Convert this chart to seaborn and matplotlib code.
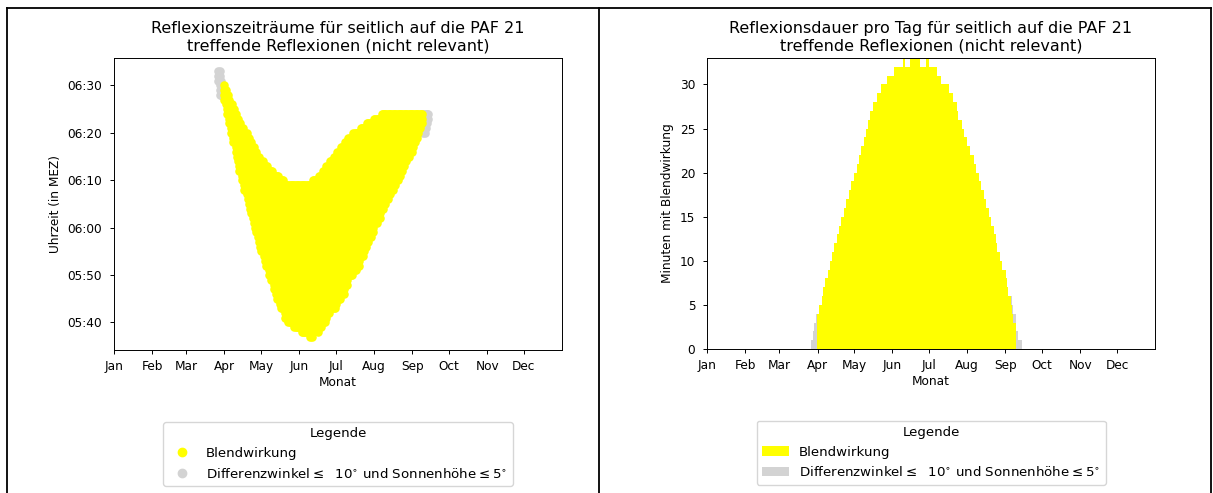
import numpy as np
import pandas as pd
import matplotlib
matplotlib.use("Agg")
import matplotlib.pyplot as plt
import seaborn as sns
from matplotlib.lines import Line2D
from matplotlib.patches import Patch
from matplotlib.ticker import FuncFormatter

# =========================================
# DATEN
# =========================================

# Tag im Jahr (0 = 1. Januar)
monat_start = [0, 31, 59, 90, 120, 151, 181, 212, 243, 273, 304, 334]
monat_namen = ["Jan", "Feb", "Mar", "Apr", "May", "Jun",
               "Jul", "Aug", "Sep", "Oct", "Nov", "Dec"]

# Blendwirkung ab Tag 90 (1. April): letzte Minute (ab Mitternacht) und Dauer je Tag
erster_tag = 90
ende_gelb = [
    390, 389, 388, 388, 387, 386, 386, 385, 385, 384,   # 90
    383, 383, 382, 382, 381, 381, 380, 380, 380, 379,   # 100
    379, 378, 378, 377, 377, 376, 376, 375, 375, 374,   # 110
    374, 374, 373, 373, 373, 373, 372, 372, 372, 372,   # 120
    371, 371, 371, 371, 371, 370, 370, 370, 370, 369,   # 130
    369, 369, 369, 369, 369, 369, 369, 369, 369, 369,   # 140
    369, 369, 369, 369, 369, 369, 369, 369, 369, 369,   # 150
    369, 369, 370, 370, 370, 370, 370, 371, 371, 371,   # 160
    372, 372, 372, 373, 373, 373, 374, 374, 374, 375,   # 170
    375, 375, 376, 376, 376, 377, 377, 377, 378, 378,   # 180
    378, 379, 379, 379, 379, 380, 380, 380, 380, 380,   # 190
    380, 381, 381, 381, 381, 381, 382, 382, 382, 382,   # 200
    382, 382, 383, 383, 383, 383, 383, 383, 384, 384,   # 210
    384, 384, 384, 384, 384, 384, 384, 384, 384, 384,   # 220
    384, 384, 384, 384, 384, 384, 384, 384, 384, 384,   # 230
    384, 384, 384, 384, 384, 384, 384, 384, 384, 384,   # 240
    384, 384,                                           # 250
]
dauer_gelb = [
    4, 4, 5, 5, 6, 7, 7, 8, 8, 9,
    9, 10, 11, 11, 12, 12, 13, 13, 14, 14,
    15, 15, 16, 16, 17, 17, 18, 18, 19, 19,
    20, 20, 20, 21, 22, 22, 23, 23, 24, 24,
    25, 25, 26, 27, 27, 27, 28, 28, 28, 29,
    29, 29, 30, 30, 30, 30, 30, 31, 31, 31,
    31, 31, 31, 32, 32, 32, 32, 32, 32, 32,
    33, 33, 32, 32, 32, 32, 33, 33, 33, 33,
    33, 33, 33, 33, 32, 32, 32, 32, 32, 33,
    33, 32, 32, 32, 32, 32, 32, 32, 31, 31,
    31, 30, 30, 30, 30, 30, 30, 30, 29, 29,
    29, 28, 28, 28, 27, 26, 26, 26, 25, 25,
    24, 24, 23, 23, 23, 22, 22, 22, 21, 21,
    20, 20, 19, 19, 18, 18, 17, 17, 16, 16,
    15, 15, 14, 14, 13, 13, 12, 11, 11, 10,
    10, 9, 9, 9, 8, 7, 6, 6, 5, 4,
    3, 3,
]

# graue Punkte links: Tag, von, bis (Minuten ab Mitternacht)
grau_tag = [85, 86, 87, 252, 253, 254, 255, 256]
grau_von = [391, 388, 388, 380, 380, 381, 382, 383]
grau_bis = [393, 393, 391, 384, 384, 384, 384, 384]

# graue Balken rechts
grau_balken_tag = [85, 86, 87, 88, 89, 247, 248, 249, 250, 251, 252, 253, 254, 255, 256]
grau_balken_dauer = [1, 1, 2, 3, 4, 6, 6, 5, 4, 4, 2, 2, 1, 1, 1]

uhrzeit_ticks = [340, 350, 360, 370, 380, 390]

label_gelb = "Blendwirkung"
label_grau = r"Differenzwinkel$\leq$  10$^{\circ}$ und Sonnenhöhe$\leq5^{\circ}$"

GELB = "#ffff00"
GRAU = "lightgrey"

# =========================================
# PUNKTE AUFBAUEN
# =========================================

tage_gelb = list(range(erster_tag, erster_tag + len(ende_gelb)))

rows = []
for d, e, n in zip(tage_gelb, ende_gelb, dauer_gelb):
    for m in range(e - n + 1, e + 1):
        rows.append((d, m))
df_gelb = pd.DataFrame(rows, columns=["tag", "minute"])

rows = []
for d, a, b in zip(grau_tag, grau_von, grau_bis):
    for m in range(a, b + 1):
        rows.append((d, m))
df_grau = pd.DataFrame(rows, columns=["tag", "minute"])

df_dauer = pd.DataFrame({"tag": tage_gelb, "dauer": dauer_gelb})
df_grau_dauer = pd.DataFrame({"tag": grau_balken_tag, "dauer": grau_balken_dauer})

# =========================================
# FIGUR
# =========================================

plt.rcParams["font.family"] = ["DejaVu Sans"]
plt.rcParams["font.size"] = 8.7
plt.rcParams["axes.linewidth"] = 0.7
plt.rcParams["xtick.major.width"] = 0.7
plt.rcParams["ytick.major.width"] = 0.7
plt.rcParams["xtick.major.size"] = 3.0
plt.rcParams["ytick.major.size"] = 3.0
plt.rcParams["xtick.major.pad"] = 4.3
plt.rcParams["ytick.major.pad"] = 5.5

fig = plt.figure(figsize=(12.13, 4.93), dpi=100)
fig.patch.set_facecolor("white")

ax1 = fig.add_axes([0.0940, 0.2901, 0.3693, 0.5923])
ax2 = fig.add_axes([0.5829, 0.2921, 0.3693, 0.5903])

TITEL_SIZE = 11.5
LEG_SIZE = 9.6

# ---- links: Reflexionszeiträume
sns.scatterplot(data=df_grau, x="tag", y="minute", color=GRAU, s=38,
                linewidth=0, ax=ax1, legend=False)
sns.scatterplot(data=df_gelb, x="tag", y="minute", color=GELB, s=38,
                linewidth=0, ax=ax1, legend=False)

ax1.set_xlim(0, 365)
ax1.set_xticks(monat_start)
ax1.set_xticklabels(monat_namen)
ax1.set_yticks(uhrzeit_ticks)
ax1.yaxis.set_major_formatter(
    FuncFormatter(lambda v, p: f"{int(v) // 60:02d}:{int(v) % 60:02d}"))
ax1.set_title("Reflexionszeiträume für seitlich auf die PAF 21\n"
              "treffende Reflexionen (nicht relevant)", fontsize=TITEL_SIZE, pad=5.2)
ax1.set_xlabel("Monat", labelpad=2)
ax1.set_ylabel("Uhrzeit (in MEZ)")

handles1 = [
    Line2D([], [], marker="o", linestyle="none", color=GELB, markersize=6),
    Line2D([], [], marker="o", linestyle="none", color=GRAU, markersize=6),
]
ax1.legend(handles1, [label_gelb, label_grau], title="Legende",
           loc="upper center", bbox_to_anchor=(0.5, -0.2466), borderaxespad=0,
           fontsize=LEG_SIZE, title_fontsize=LEG_SIZE)

# ---- rechts: Reflexionsdauer pro Tag
sns.histplot(data=df_grau_dauer, x="tag", weights="dauer", discrete=True,
             color=GRAU, alpha=1, linewidth=0, ax=ax2)
sns.histplot(data=df_dauer, x="tag", weights="dauer", discrete=True,
             color=GELB, alpha=1, linewidth=0, ax=ax2)

ax2.set_xlim(0, 365)
ax2.set_ylim(0, 33)
ax2.set_xticks(monat_start)
ax2.set_xticklabels(monat_namen)
ax2.set_yticks([0, 5, 10, 15, 20, 25, 30])
ax2.set_title("Reflexionsdauer pro Tag für seitlich auf die PAF 21\n"
              "treffende Reflexionen (nicht relevant)", fontsize=TITEL_SIZE, pad=5.2)
ax2.set_xlabel("Monat", labelpad=2)
ax2.set_ylabel("Minuten mit Blendwirkung")

handles2 = [Patch(facecolor=GELB, edgecolor="none"),
            Patch(facecolor=GRAU, edgecolor="none")]
ax2.legend(handles2, [label_gelb, label_grau], title="Legende",
           loc="upper center", bbox_to_anchor=(0.5, -0.2466), borderaxespad=0,
           fontsize=LEG_SIZE, title_fontsize=LEG_SIZE)

# Tabellenrahmen des Screenshots
W, H = 1213, 493
for (x0, y0, x1, y1) in [(7, 7.5, 1211, 7.5), (7, 7.5, 7, 493),
                         (598.5, 7.5, 598.5, 493), (1211, 7.5, 1211, 493)]:
    fig.add_artist(Line2D([x0 / W, x1 / W], [1 - y0 / H, 1 - y1 / H],
                          transform=fig.transFigure, color="black", lw=1.3))

fig.savefig("out.png", dpi=100)
